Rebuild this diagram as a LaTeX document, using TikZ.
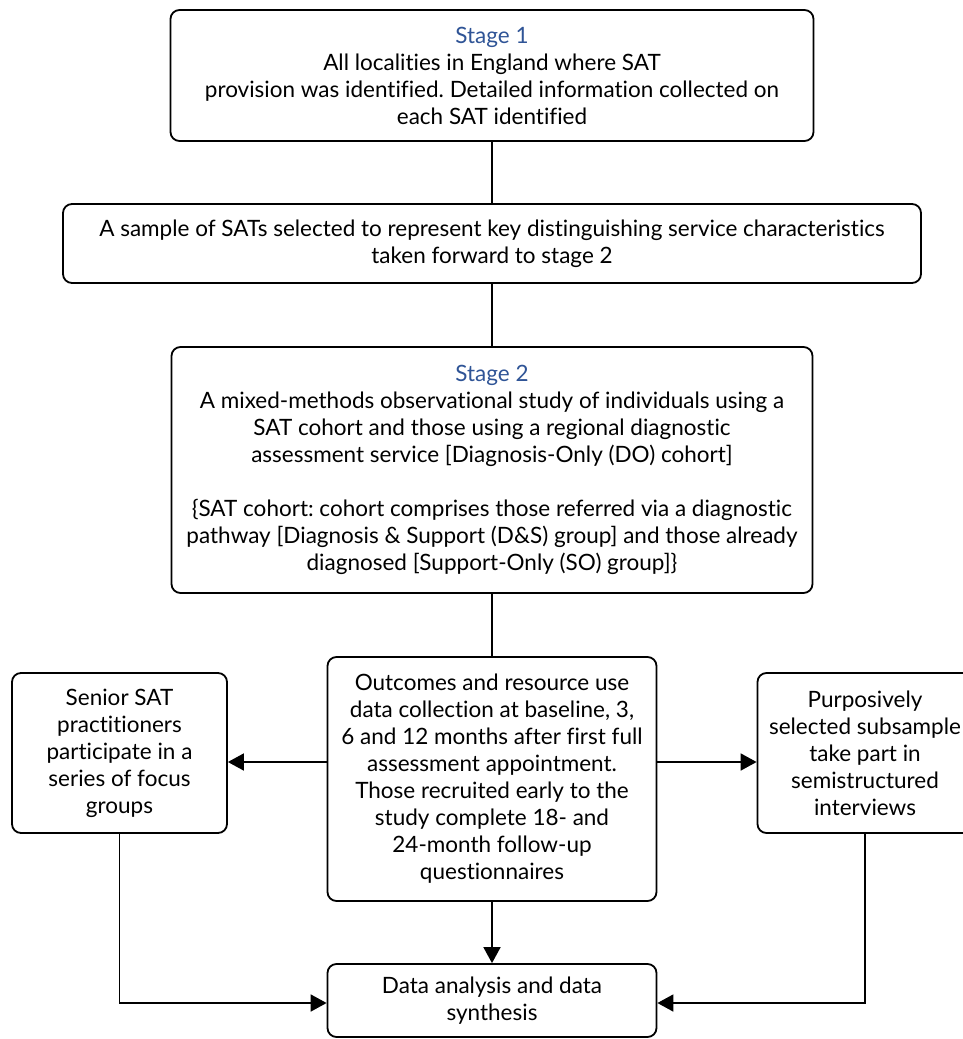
\documentclass[tikz,border=0pt]{standalone}
\usepackage{fontspec}
\setmainfont{Lato}[Ligatures=NoCommon]
\usetikzlibrary{arrows.meta}
\definecolor{stageblue}{RGB}{47,84,150}
\frenchspacing
\begin{document}
\begin{tikzpicture}[x=1pt,y=-1pt,
  box/.style={draw, line width=1.8pt, rounded corners=9pt, align=center, inner sep=0pt,
    font=\fontsize{22.5}{27}\selectfont},
  conn/.style={line width=1.8pt},
  arr/.style={line width=1.8pt, -{Triangle[length=16pt,width=17pt]}}
]
\useasboundingbox (0,0) rectangle (963,1039);

\node[box, minimum width=643pt, minimum height=131pt] (s1) at (492,75.5)
  {{\color{stageblue}Stage 1}\\
   All localities in England where SAT\\
   provision was identified. Detailed information collected on\\
   each SAT identified};

\node[box, minimum width=858pt, minimum height=79pt] (smp) at (492,243.5)
  {A sample of SATs selected to represent key distinguishing service characteristics\\
   taken forward to stage 2};

\node[box, minimum width=641pt, minimum height=246pt] (s2) at (492,470)
  {{\color{stageblue}Stage 2}\\
   A mixed-methods observational study of individuals using a\\
   SAT cohort and those using a regional diagnostic\\
   assessment service [Diagnosis-Only (DO) cohort]\\[27pt]
   \{SAT cohort: cohort comprises those referred via a diagnostic\\
   pathway [Diagnosis \& Support (D\&S) group] and those already\\
   diagnosed [Support-Only (SO) group]\}};

\node[box, minimum width=329pt, minimum height=244pt] (out) at (492,779)
  {Outcomes and resource use\\
   data collection at baseline, 3,\\
   6 and 12 months after first full\\
   assessment appointment.\\
   Those recruited early to the\\
   study complete 18- and\\
   24-month follow-up\\
   questionnaires};

\node[box, minimum width=215pt, minimum height=160pt] (foc) at (119.5,753)
  {Senior SAT\\
   practitioners\\
   participate in a\\
   series of focus\\
   groups};

\node[box, minimum width=215pt, minimum height=160pt] (int) at (865,753)
  {Purposively\\
   selected subsample\\
   take part in\\
   semistructured\\
   interviews};

\node[box, minimum width=329pt, minimum height=73pt] (ana) at (492,1000.5)
  {Data analysis and data\\
   synthesis};

\coordinate (ay) at (0,762);
\coordinate (by) at (0,1003);

\draw[conn] (s1.south) -- (smp.north);
\draw[conn] (smp.south) -- (s2.north);
\draw[conn] (s2.south) -- (out.north);
\draw[arr] (out.west |- ay) -- (foc.east |- ay);
\draw[arr] (out.east |- ay) -- (int.west |- ay);
\draw[arr] (out.south) -- (ana.north);
\draw[arr] (foc.south) |- (ana.west |- by);
\draw[arr] (int.south) |- (ana.east |- by);
\end{tikzpicture}
\end{document}
